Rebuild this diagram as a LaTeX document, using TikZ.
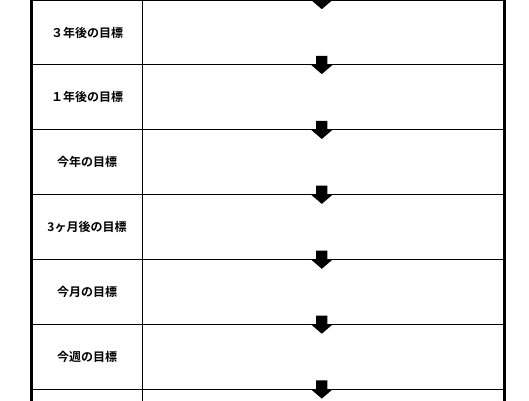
\documentclass[tikz,border=0pt]{standalone}
\usepackage{fontspec}
\newfontfamily\jpfont{Noto Sans CJK JP Bold}
\tikzset{
  lbl/.style={font=\jpfont\fontsize{12}{14}\selectfont,inner sep=0pt},
  rowline/.style={line width=.9pt},
  frame/.style={line width=2.6pt},
  darr/.pic={\fill[black] (-5.6,-9) -- (5.6,-9) -- (5.6,0) -- (10.7,0)
                   -- (0,9.2) -- (-10.7,0) -- (-5.6,0) -- cycle;},
}
\begin{document}
\begin{tikzpicture}[x=1pt,y=-1pt]
  \useasboundingbox (0,0) rectangle (529,400);
  \clip (0,0) rectangle (529,400);
  % row rules
  \foreach \k in {0,...,7}{
    \draw[rowline] (31.3,{64.9*\k}) -- (504.3,{64.9*\k});
  }
  % column rules and outer frame
  \draw[rowline] (142.3,-10) -- (142.3,410);
  \draw[frame] (31.3,-10) -- (31.3,410);
  \draw[frame] (504.3,-10) -- (504.3,410);
  % labels of the left column
  \foreach \t [count=\i from 0] in {３年後の目標,１年後の目標,今年の目標,3ヶ月後の目標,今月の目標,今週の目標}{
    \node[lbl] (goal\i) at (87,{32.45+64.9*\i}) {\t};
  }
  % arrows between the rows
  \foreach \k in {0,...,6}{
    \pic (arr\k) at (321.8,{64.9*\k}) {darr};
  }
\end{tikzpicture}
\end{document}
